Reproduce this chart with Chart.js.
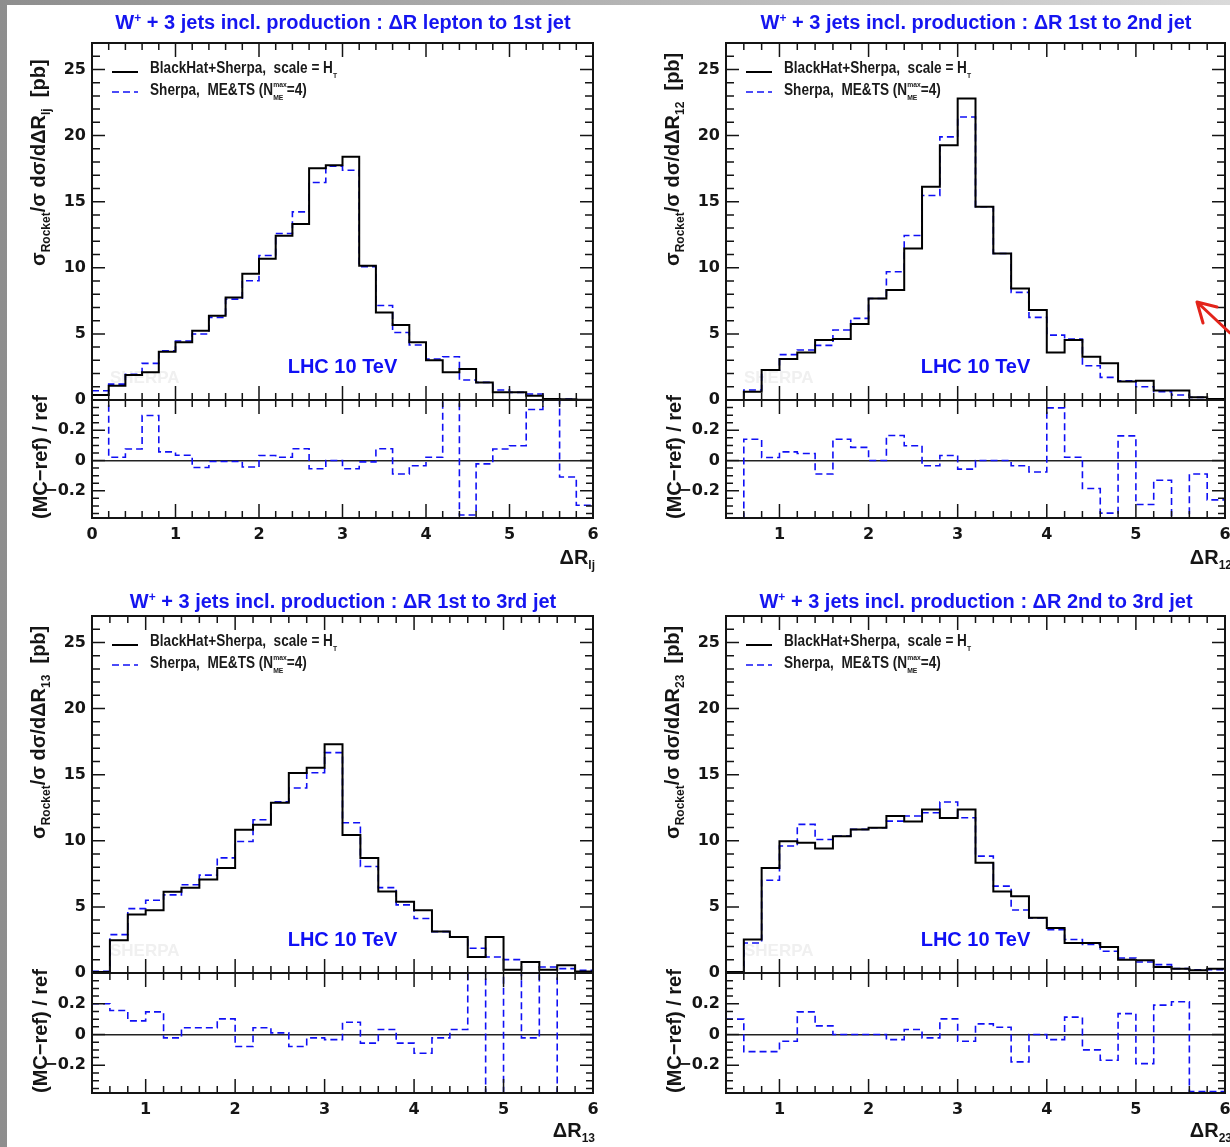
<!DOCTYPE html>
<html>
<head>
<meta charset="utf-8">
<script src="https://cdn.jsdelivr.net/npm/chart.js@4.4.0/dist/chart.umd.min.js"></script>
<style>
  body{margin:0;width:1230px;height:1147px;overflow:hidden;position:relative;
       background:linear-gradient(to right,#8e8e8e,#dadada);font-family:"Liberation Sans",Arial,sans-serif}
  #page{position:absolute;left:7px;top:5px;width:1223px;height:1142px;background:#fff}
  canvas{position:absolute}
  .ttl{position:absolute;transform:translateX(-50%);font:bold 20px "Liberation Sans";line-height:22px;color:#1515f0;white-space:nowrap}
  .ttl .sp{font-size:12px;position:relative;top:-7px}
  .yt{position:absolute;transform-origin:0 0;transform:rotate(-90deg);font:bold 20px "Liberation Sans";line-height:22px;color:#151515;white-space:nowrap}
  .xt{position:absolute;transform:translateX(-100%);font:bold 20px "Liberation Sans";line-height:22px;color:#151515;white-space:nowrap}
  .sb{font-size:12px;position:relative;top:5px}
</style>
</head>
<body>
<div id="page"></div>

<canvas id="c1"></canvas>
<canvas id="c2"></canvas>
<canvas id="c3"></canvas>
<canvas id="c4"></canvas>

<div class="ttl" style="left:343px;top:11px">W<span class="sp">+</span> + 3 jets incl. production : ΔR lepton to 1st jet</div>
<div class="ttl" style="left:976px;top:11px">W<span class="sp">+</span> + 3 jets incl. production : ΔR 1st to 2nd jet</div>
<div class="ttl" style="left:343px;top:590px">W<span class="sp">+</span> + 3 jets incl. production : ΔR 1st to 3rd jet</div>
<div class="ttl" style="left:976px;top:590px">W<span class="sp">+</span> + 3 jets incl. production : ΔR 2nd to 3rd jet</div>

<div class="yt" style="left:27px;top:266px">σ<span class="sb">Rocket</span>/σ dσ/dΔR<span class="sb">lj</span> &nbsp;[pb]</div>
<div class="yt" style="left:661px;top:266px">σ<span class="sb">Rocket</span>/σ dσ/dΔR<span class="sb">12</span> &nbsp;[pb]</div>
<div class="yt" style="left:27px;top:839px">σ<span class="sb">Rocket</span>/σ dσ/dΔR<span class="sb">13</span> &nbsp;[pb]</div>
<div class="yt" style="left:661px;top:839px">σ<span class="sb">Rocket</span>/σ dσ/dΔR<span class="sb">23</span> &nbsp;[pb]</div>

<div class="yt" style="left:29px;top:519px">(MC−ref) / ref</div>
<div class="yt" style="left:663px;top:519px">(MC−ref) / ref</div>
<div class="yt" style="left:29px;top:1093px">(MC−ref) / ref</div>
<div class="yt" style="left:663px;top:1093px">(MC−ref) / ref</div>

<div class="xt" style="left:595px;top:546px">ΔR<span class="sb">lj</span></div>
<div class="xt" style="left:1232px;top:546px">ΔR<span class="sb">12</span></div>
<div class="xt" style="left:595px;top:1119px">ΔR<span class="sb">13</span></div>
<div class="xt" style="left:1232px;top:1119px">ΔR<span class="sb">23</span></div>

<svg style="position:absolute;left:1190px;top:295px" width="40" height="40">
  <path d="M7 7 L40 38 M7 7 L27 12 M7 7 L13 28" stroke="#e3241b" stroke-width="3" fill="none" stroke-linecap="round"/>
</svg>

<script>
// lower bin edges (bins are 0.2 wide, last upper edge is 6)
const edgesLep = [0,0.2,0.4,0.6,0.8,1.0,1.2,1.4,1.6,1.8,2.0,2.2,2.4,2.6,2.8,3.0,3.2,3.4,3.6,3.8,4.0,4.2,4.4,4.6,4.8,5.0,5.2,5.4,5.6,5.8];
const edgesJet = [0.4,0.6,0.8,1.0,1.2,1.4,1.6,1.8,2.0,2.2,2.4,2.6,2.8,3.0,3.2,3.4,3.6,3.8,4.0,4.2,4.4,4.6,4.8,5.0,5.2,5.4,5.6,5.8];
const xUpper = 6;

// dR lepton - 1st jet
const lj1BlackHat = [0.38,1.08,1.9,2.1,3.65,4.36,5.24,6.37,7.76,9.55,10.68,12.42,13.32,17.53,17.76,18.39,10.15,6.62,5.67,4.36,3.0,2.09,2.34,1.33,0.58,0.58,0.33,0.08,0.05,0.02];
const lj1Sherpa   = [0.7,1.2,1.95,2.77,3.73,4.46,4.99,6.25,7.63,9.02,10.93,12.59,14.23,16.45,17.68,17.38,10.08,7.15,5.11,4.16,3.1,3.27,1.51,1.33,0.76,0.58,0.45,0.08,0.08,0.02];
const lj1Ratio    = [0.84,0.022,0.076,0.298,0.057,0.035,-0.046,-0.007,-0.007,-0.043,0.033,0.022,0.078,-0.054,0,-0.054,-0.009,0.078,-0.089,-0.035,0.022,0.56,-0.36,-0.022,0.076,0.098,0.337,0.6,-0.109,-0.296];

// dR 1st - 2nd jet
const j12BlackHat = [0,0.63,2.27,3.1,3.6,4.53,4.61,5.74,7.68,8.31,11.46,16.12,19.27,22.8,14.61,11.08,8.44,6.8,3.6,4.53,3.27,2.77,1.39,1.46,0.71,0.71,0.2,0.08];
const j12Sherpa   = [0,0.76,2.27,3.43,3.78,4.13,5.29,6.17,7.68,9.7,12.44,15.47,19.9,21.4,14.61,11.08,8.14,6.25,4.91,4.61,2.59,1.71,1.46,1.0,0.63,0.38,0.2,0.08];
const j12Ratio    = [-1,0.141,0.02,0.057,0.046,-0.089,0.141,0.087,0,0.165,0.098,-0.035,0.033,-0.057,0,0,-0.035,-0.076,0.348,0.022,-0.185,-0.348,0.163,-0.291,-0.13,-0.46,-0.089,-0.26];

// dR 1st - 3rd jet
const j13BlackHat = [0.08,2.47,4.42,4.75,6.14,6.44,7.07,7.95,10.83,11.21,12.88,15.13,15.53,17.3,10.43,8.69,6.16,5.38,4.75,3.13,2.73,1.21,2.73,0.25,0.83,0.25,0.58,0.12];
const j13Sherpa   = [0.13,2.9,4.87,5.5,5.91,6.67,7.4,8.71,9.95,11.59,12.95,13.99,15.15,16.67,11.36,8.06,6.46,5.15,4.12,3.13,2.73,1.87,1.21,1.01,0.83,0.45,0.33,0.2];
const j13Ratio    = [0.2,0.156,0.089,0.147,-0.022,0.044,0.044,0.102,-0.078,0.044,0.011,-0.078,-0.022,-0.033,0.08,-0.056,0.033,-0.056,-0.122,-0.022,0.033,0.55,-0.56,3.0,-0.022,0.8,-0.43,-0.5];

// dR 2nd - 3rd jet
const j23BlackHat = [0.08,2.53,7.95,9.97,9.85,9.42,10.35,10.86,10.98,11.87,11.46,12.37,11.72,12.37,8.33,6.16,5.81,4.17,3.41,2.27,2.27,1.97,1.01,0.96,0.45,0.33,0.2,0.33];
const j23Sherpa   = [0.08,2.27,7.02,9.6,11.24,10.1,10.35,10.86,10.98,11.49,11.87,12.12,12.93,11.74,8.84,6.57,4.77,4.17,3.28,2.53,2.15,1.64,1.14,0.83,0.63,0.33,0.25,0.25];
const j23Ratio    = [0.1,-0.111,-0.111,-0.044,0.147,0.056,0,0,0,-0.033,0.033,-0.022,0.102,-0.044,0.069,0.047,-0.178,0,-0.033,0.113,-0.1,-0.167,0.136,-0.189,0.191,0.213,-0.37,-0.37];

const mainMax = 27, ratioMin = -0.38, ratioMax = 0.4;

// frame positions on the page
const panels = [
  {id:'c1', left:92,  right:593,  top:43,  mid:400, bottom:518,  lows:edgesLep, bh:lj1BlackHat, sh:lj1Sherpa, ratio:lj1Ratio},
  {id:'c2', left:726, right:1225, top:43,  mid:400, bottom:518,  lows:edgesJet, bh:j12BlackHat, sh:j12Sherpa, ratio:j12Ratio},
  {id:'c3', left:92,  right:593,  top:616, mid:973, bottom:1093, lows:edgesJet, bh:j13BlackHat, sh:j13Sherpa, ratio:j13Ratio},
  {id:'c4', left:726, right:1225, top:616, mid:973, bottom:1093, lows:edgesJet, bh:j23BlackHat, sh:j23Sherpa, ratio:j23Ratio},
];

const BLUE = '#1010f5';
const AXW = 92, PADR = 27, PADT = 43, XH = 35, PADB = 27;

const steps = (lows, vals) =>
  lows.map((x, i) => ({x, y: vals[i]})).concat([{x: xUpper, y: vals[vals.length - 1]}]);

const isZero = v => Math.abs(v) < 1e-9;

// text with sub / superscripts, drawn condensed like the original
function rich(ctx, x, y, parts, big, small, sx) {
  ctx.save();
  ctx.translate(x, y); ctx.scale(sx, 1);
  let cx = 0;
  for (const p of parts) {
    if (p.t) {
      ctx.font = big; ctx.fillText(p.t, cx, 0); cx += ctx.measureText(p.t).width;
    } else {
      ctx.font = small; let w = 0;
      if (p.sup) { ctx.fillText(p.sup, cx, -8); w = Math.max(w, ctx.measureText(p.sup).width); }
      if (p.sub) { ctx.fillText(p.sub, cx, 5); w = Math.max(w, ctx.measureText(p.sub).width); }
      cx += w;
    }
  }
  ctx.restore();
}

const rootLook = {
  id: 'rootLook',
  beforeDatasetsDraw(chart) {
    const {ctx, scales: {x, y}} = chart;
    ctx.save();
    ctx.font = 'bold 17px "Liberation Sans"';
    ctx.fillStyle = '#f0f0f0';
    ctx.fillText('SHERPA', x.left + 18, y.bottom - 17);
    ctx.restore();
  },
  afterDatasetsDraw(chart) {
    const {ctx, scales: {x, y, yr}} = chart;
    const ds = chart.data.datasets;
    ctx.save();
    ctx.strokeStyle = '#141414';
    ctx.lineWidth = 1.5;
    ctx.beginPath();
    for (let k = Math.ceil(x.min * 5 - 1e-6); k <= Math.floor(x.max * 5 + 1e-6); k++) {
      const px = x.getPixelForValue(k / 5);
      const L = k % 5 === 0 ? 14 : 7;
      ctx.moveTo(px, y.top);     ctx.lineTo(px, y.top + L);
      ctx.moveTo(px, y.bottom);  ctx.lineTo(px, y.bottom - L);
      ctx.moveTo(px, yr.top);    ctx.lineTo(px, yr.top + L);
      ctx.moveTo(px, yr.bottom); ctx.lineTo(px, yr.bottom - L);
    }
    for (let k = Math.ceil(y.min); k <= Math.floor(y.max); k++) {
      const py = y.getPixelForValue(k);
      const L = k % 5 === 0 ? 13 : 8;
      ctx.moveTo(x.left, py);  ctx.lineTo(x.left + L, py);
      ctx.moveTo(x.right, py); ctx.lineTo(x.right - L, py);
    }
    for (let k = Math.ceil(yr.min / 0.05 - 1e-6); k <= Math.floor(yr.max / 0.05 + 1e-6); k++) {
      const py = yr.getPixelForValue(k * 0.05);
      const L = k % 4 === 0 ? 13 : 7;
      ctx.moveTo(x.left, py);  ctx.lineTo(x.left + L, py);
      ctx.moveTo(x.right, py); ctx.lineTo(x.right - L, py);
    }
    ctx.stroke();
    ctx.lineWidth = 2;
    ctx.strokeRect(x.left, y.top, x.right - x.left, y.bottom - y.top);
    ctx.strokeRect(x.left, yr.top, x.right - x.left, yr.bottom - yr.top);

    // legend
    const lx = x.left, ly = y.top;
    [[ds[0], 29], [ds[1], 49]].forEach(([d, dy]) => {
      ctx.beginPath();
      ctx.strokeStyle = d.borderColor; ctx.lineWidth = d.borderWidth;
      ctx.setLineDash(d.borderDash || []);
      ctx.moveTo(lx + 20, ly + dy); ctx.lineTo(lx + 46, ly + dy);
      ctx.stroke();
    });
    ctx.setLineDash([]);
    ctx.fillStyle = '#1a1a1a';
    const big = 'bold 16px "Liberation Sans"', small = 'bold 8px "Liberation Sans"';
    rich(ctx, lx + 58, ly + 30, [{t: 'BlackHat+Sherpa,  scale = H'}, {sub: 'T'}], big, small, 0.85);
    rich(ctx, lx + 58, ly + 52, [{t: 'Sherpa,  ME&TS (N'}, {sup: 'max', sub: 'ME'}, {t: '=4)'}], big, small, 0.85);

    ctx.font = 'bold 20px "Liberation Sans"';
    ctx.fillStyle = BLUE;
    ctx.textAlign = 'center';
    ctx.fillText('LHC 10 TeV', (x.left + x.right) / 2, y.bottom - 27);
    ctx.restore();
  }
};

Chart.defaults.font.family = '"DejaVu Sans"';
Chart.defaults.color = '#151515';

const tickFont = {family: '"DejaVu Sans"', weight: 'bold', size: 16};

panels.forEach(p => {
  const cv = document.getElementById(p.id);
  const cl = p.left - AXW, ct = p.top - PADT;
  const w = p.right + PADR - cl, h = p.bottom + XH + PADB - ct;
  cv.width = w; cv.height = h;
  cv.style.left = cl + 'px'; cv.style.top = ct + 'px';
  cv.style.width = w + 'px'; cv.style.height = h + 'px';

  new Chart(cv.getContext('2d'), {
    type: 'line',
    data: {
      datasets: [
        {label: 'BlackHat+Sherpa, scale = HT', data: steps(p.lows, p.bh), yAxisID: 'y',
         borderColor: '#000000', borderWidth: 2, stepped: true, pointRadius: 0, fill: false},
        {label: 'Sherpa, ME&TS (Nmax_ME=4)', data: steps(p.lows, p.sh), yAxisID: 'y',
         borderColor: BLUE, borderWidth: 1.6, borderDash: [7, 4], stepped: true, pointRadius: 0, fill: false},
        {label: '(MC-ref)/ref', data: steps(p.lows, p.ratio), yAxisID: 'yr',
         borderColor: BLUE, borderWidth: 1.6, borderDash: [7, 4], stepped: true, pointRadius: 0, fill: false}
      ]
    },
    options: {
      responsive: false, animation: false, devicePixelRatio: 1, events: [],
      layout: {padding: {left: 0, top: PADT, right: PADR, bottom: PADB}},
      plugins: {legend: {display: false}, tooltip: {enabled: false}},
      scales: {
        x: {type: 'linear', min: p.lows[0] === 0 ? 0 : 0.4, max: xUpper, position: 'bottom',
            grid: {display: false, drawTicks: false}, border: {display: false},
            ticks: {stepSize: 1, includeBounds: false, autoSkip: false, maxRotation: 0, padding: 7, font: tickFont},
            afterFit: s => { s.height = XH; }},
        yr: {type: 'linear', min: ratioMin, max: ratioMax, position: 'left', stack: 'v', stackWeight: p.bottom - p.mid,
             border: {display: false},
             grid: {drawTicks: false, lineWidth: 1.5,
                    color: c => (c.tick && isZero(c.tick.value)) ? '#222222' : 'rgba(0,0,0,0)'},
             ticks: {stepSize: 0.2, includeBounds: false, autoSkip: false, padding: 6, font: tickFont,
                     callback: v => v > 0.3 ? '' : (isZero(v) ? '0' : (v < 0 ? '−' : '') + Math.abs(v).toFixed(1))},
             afterFit: s => { s.width = AXW; }},
        y: {type: 'linear', min: 0, max: mainMax, position: 'left', stack: 'v', stackWeight: p.mid - p.top,
            border: {display: false}, grid: {display: false, drawTicks: false},
            ticks: {stepSize: 5, includeBounds: false, autoSkip: false, padding: 6, font: tickFont},
            afterFit: s => { s.width = AXW; }}
      }
    },
    plugins: [rootLook]
  });
});
</script>
</body>
</html>
